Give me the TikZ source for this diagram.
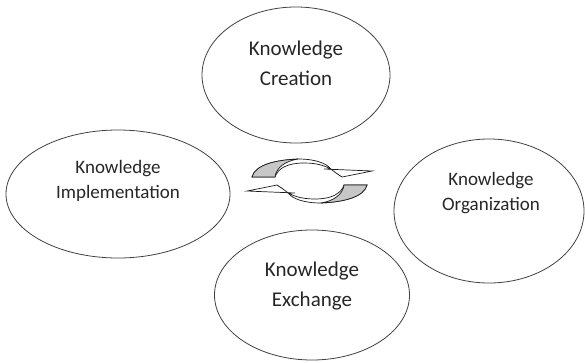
\documentclass[tikz,border=0pt]{standalone}
\usepackage{fontspec}
\setmainfont{Carlito}
\usetikzlibrary{shapes.geometric}

\begin{document}
\begin{tikzpicture}[x=1pt,y=-1pt,
	stage/.style={draw=black!75, line width=0.8pt, ellipse, inner sep=0pt},
	bigtext/.style={align=center, font=\fontsize{21}{30}\selectfont, text=black!85},
	smalltext/.style={align=center, font=\fontsize{19}{25}\selectfont, text=black!85},
	cyclearrow/.style={draw=black!90, line width=0.7pt, fill=white},
	underside/.style={draw=black!90, line width=0.7pt, fill=black!22}]
	\useasboundingbox (0,0) rectangle (585,362);

	% the four stages
	\node [stage, minimum width=188pt, minimum height=136pt] (create) at (296,75) {};
	\node [stage, minimum width=224pt, minimum height=128pt] (implement) at (118,194) {};
	\node [stage, minimum width=190pt, minimum height=144pt] (organize) at (489,211) {};
	\node [stage, minimum width=195pt, minimum height=130pt] (exchange) at (312,295) {};

	\node [bigtext] (createtext) at ([yshift=12pt]create.center) {Knowledge\\Creation};
	\node [smalltext] (implementtext) at ([yshift=13pt]implement.center) {Knowledge\\Implementation};
	\node [smalltext] (organizetext) at ([xshift=2pt,yshift=18pt]organize.center) {Knowledge\\Organization};
	\node [bigtext] (exchangetext) at ([yshift=9pt]exchange.center) {Knowledge\\Exchange};

	% two curved arrows going round the centre
	\foreach \r in {0,180} {
		\begin{scope}[shift={(309.5,181)}, rotate=\r]
			\draw [cyclearrow] (-57.5,-4) .. controls (-54.5,-16) and (-34.5,-21) .. (-11.5,-22)
				.. controls (5.5,-22) and (16.5,-18) .. (21.5,-12)
				-- (14.5,-12) -- (62.5,-10) -- (32.5,-4) -- (26.5,-8)
				.. controls (18.5,-15) and (8.5,-18) .. (-5.5,-18)
				.. controls (-21.5,-18) and (-31.5,-13) .. (-34.5,-4) -- cycle;
			\draw [underside] (-57.5,-4) .. controls (-54.5,-16) and (-34.5,-21) .. (-11.5,-22)
				.. controls (-24.5,-20) and (-33.5,-13) .. (-34.5,-4) -- cycle;
		\end{scope}
	}
\end{tikzpicture}
\end{document}
